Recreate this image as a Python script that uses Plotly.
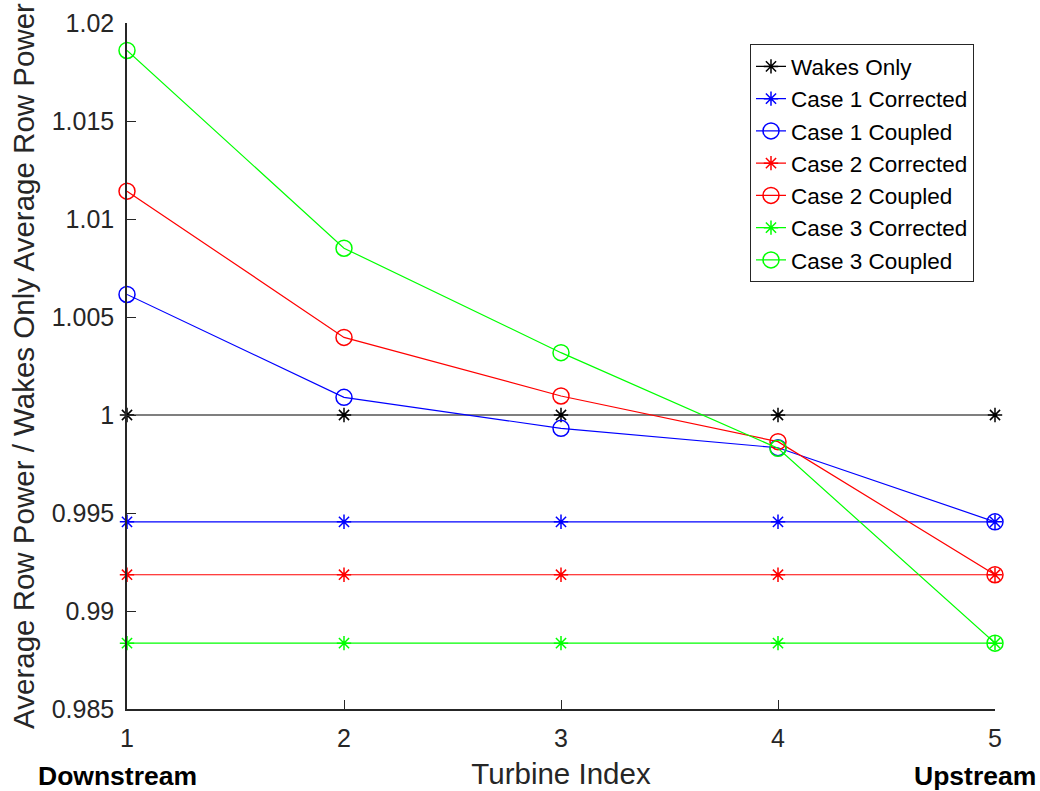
import plotly.graph_objects as go

turbine_index = [1, 2, 3, 4, 5]
wakes_only = [1.0, 1.0, 1.0, 1.0, 1.0]
case1_corrected = [0.99455, 0.99455, 0.99455, 0.99455, 0.99455]
case1_coupled = [1.00615, 1.0009, 0.99932, 0.99833, 0.99455]
case2_corrected = [0.99185, 0.99185, 0.99185, 0.99185, 0.99185]
case2_coupled = [1.01142, 1.00396, 1.00097, 0.99864, 0.99185]
case3_corrected = [0.98836, 0.98836, 0.98836, 0.98836, 0.98836]
case3_coupled = [1.0186, 1.00851, 1.00318, 0.9983, 0.98836]

y_ticks = [0.985, 0.99, 0.995, 1.0, 1.005, 1.01, 1.015, 1.02]
y_tick_labels = ["0.985", "0.99", "0.995", "1", "1.005", "1.01", "1.015", "1.02"]
x_ticks = [1, 2, 3, 4, 5]

series = [
    ("Wakes Only", wakes_only, "#000000", "asterisk-open", 12),
    ("Case 1 Corrected", case1_corrected, "#0000ff", "asterisk-open", 12),
    ("Case 1 Coupled", case1_coupled, "#0000ff", "circle-open", 16),
    ("Case 2 Corrected", case2_corrected, "#ff0000", "asterisk-open", 12),
    ("Case 2 Coupled", case2_coupled, "#ff0000", "circle-open", 16),
    ("Case 3 Corrected", case3_corrected, "#00ff00", "asterisk-open", 12),
    ("Case 3 Coupled", case3_coupled, "#00ff00", "circle-open", 16),
]

FONT = "Liberation Sans, Arial, sans-serif"
AX = "#262626"

fig = go.Figure()
for name, vals, color, sym, size in series:
    fig.add_trace(go.Scatter(
        x=turbine_index, y=vals, name=name, mode="lines+markers",
        line=dict(color=color, width=1.2),
        marker=dict(symbol=sym, size=size, color=color,
                    line=dict(color=color, width=1.5)),
        cliponaxis=False,
    ))

fig.update_layout(
    width=1040, height=791,
    margin=dict(l=127, r=45, t=23, b=82, autoexpand=False),
    paper_bgcolor="white", plot_bgcolor="white",
    font=dict(family=FONT, size=25, color=AX),
    showlegend=True,
    legend=dict(
        x=0.9758, y=0.969, xanchor="right", yanchor="top",
        bgcolor="white", bordercolor=AX, borderwidth=1,
        font=dict(family=FONT, size=22.5, color="#000000"),
        tracegroupgap=0,
    ),
)
fig.update_xaxes(
    range=[1, 5], tickvals=x_ticks, ticks="inside", ticklen=9, tickwidth=1,
    tickcolor=AX, showline=True, linecolor=AX, linewidth=1.5,
    showgrid=False, zeroline=False, ticklabelstandoff=6, automargin=False,
    tickfont=dict(size=25, color=AX),
    title=dict(text="Turbine Index", font=dict(size=29.5, color=AX), standoff=13),
)
fig.update_yaxes(
    range=[0.985, 1.02], tickvals=y_ticks, ticktext=y_tick_labels,
    ticks="inside", ticklen=9, tickwidth=1, tickcolor=AX,
    showline=True, linecolor=AX, linewidth=1.5,
    showgrid=False, zeroline=False, ticklabelstandoff=6, automargin=False,
    tickfont=dict(size=25, color=AX),
    title=dict(text="Average Row Power / Wakes Only Average Row Power",
               font=dict(size=29.5, color=AX), standoff=8),
)

fig.add_annotation(text="<b>Downstream</b>", xref="paper", yref="paper",
                   x=-0.011, y=-0.098, xanchor="center", yanchor="middle",
                   showarrow=False, font=dict(family=FONT, size=26.5, color="#000000"))
fig.add_annotation(text="<b>Upstream</b>", xref="paper", yref="paper",
                   x=1.0495, y=-0.098, xanchor="right", yanchor="middle",
                   showarrow=False, font=dict(family=FONT, size=26.5, color="#000000"))

fig.write_html("out.html", config={"displayModeBar": False},
               post_script="document.body.style.margin='0';")
